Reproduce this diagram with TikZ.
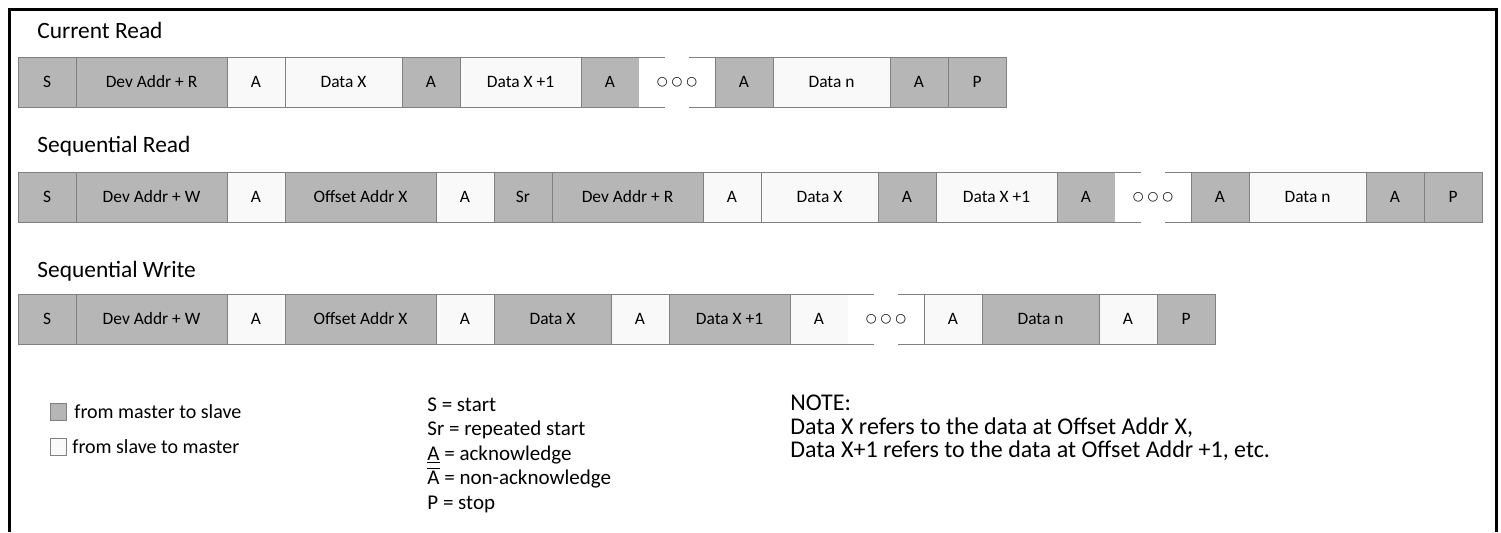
\documentclass[tikz,border=0pt]{standalone}
\usepackage{fontspec}
\setmainfont{Carlito}
\newfontfamily\kreisfont{DejaVu Sans}
\usetikzlibrary{positioning}
\definecolor{mgrau}{RGB}{182,182,182}
\definecolor{sgrau}{RGB}{249,249,249}
\definecolor{rand}{RGB}{128,128,128}
\tikzset{
  Feld/.style={draw=rand, line width=0.5pt, minimum height=25pt, inner sep=0pt, outer sep=0pt, anchor=west, font=\fontsize{8.7}{10}\selectfont}, % Grundform
  MS/.style={Feld, fill=mgrau, minimum width=#1}, % master to slave
  SM/.style={Feld, fill=sgrau, minimum width=#1}, % slave to master
  Luecke/.style={Feld, draw=none, fill=white, minimum width=38pt, font=\kreisfont\fontsize{6.2}{8}\selectfont}, % fuer o o o
  Bruch/.style={draw=rand, line width=0.5pt, dash pattern=on 13pt off 12pt},
  Titel/.style={anchor=west, inner sep=0pt, font=\fontsize{11.7}{14}\selectfont},
  Legende/.style={anchor=west, inner sep=0pt, font=\fontsize{10}{12}\selectfont}
}
\begin{document}
\begin{tikzpicture}[x=0.5pt, y=-0.5pt]
\useasboundingbox (0,0) rectangle (1501,532);

% Rahmen
\draw[line width=1.5pt] (9,532) -- (9,9) -- (1496,9) -- (1496,532);

% % Current Read
\node[Titel] (t1) at (37,30) {Current Read};
\node[MS=29pt] (r1s) at (18,82) {S};
\node[MS=75.5pt, right=0pt of r1s] (r1dev) {Dev Addr + R};
\node[SM=29pt, right=0pt of r1dev] (r1a1) {A};
\node[SM=58.5pt, right=0pt of r1a1] (r1dx) {Data X};
\node[MS=29pt, right=0pt of r1dx] (r1a2) {A};
\node[SM=60.5pt, right=0pt of r1a2] (r1dx1) {Data X +1};
\node[MS=29pt, right=0pt of r1dx1] (r1a3) {A};
\node[Luecke, right=0pt of r1a3] (r1gap) {○ ○ ○};
\node[MS=29pt, right=0pt of r1gap] (r1a4) {A};
\node[SM=58.5pt, right=0pt of r1a4] (r1dn) {Data n};
\node[MS=29pt, right=0pt of r1dn] (r1a5) {A};
\node[MS=29pt, right=0pt of r1a5] (r1p) {P};
\draw[Bruch] (r1gap.north west) -- (r1gap.north east);
\draw[Bruch] (r1gap.south west) -- (r1gap.south east);

% % Sequential Read
\node[Titel] (t2) at (37,146) {Sequential Read};
\node[MS=29pt] (r2s) at (18,197) {S};
\node[MS=75.5pt, right=0pt of r2s] (r2dev) {Dev Addr + W};
\node[SM=29pt, right=0pt of r2dev] (r2a1) {A};
\node[MS=75.5pt, right=0pt of r2a1] (r2off) {Offset Addr X};
\node[SM=29pt, right=0pt of r2off] (r2a2) {A};
\node[MS=29pt, right=0pt of r2a2] (r2sr) {Sr};
\node[MS=75.5pt, right=0pt of r2sr] (r2devr) {Dev Addr + R};
\node[SM=29pt, right=0pt of r2devr] (r2a3) {A};
\node[SM=58.5pt, right=0pt of r2a3] (r2dx) {Data X};
\node[MS=29pt, right=0pt of r2dx] (r2a4) {A};
\node[SM=60.5pt, right=0pt of r2a4] (r2dx1) {Data X +1};
\node[MS=29pt, right=0pt of r2dx1] (r2a5) {A};
\node[Luecke, right=0pt of r2a5] (r2gap) {○ ○ ○};
\node[MS=29pt, right=0pt of r2gap] (r2a6) {A};
\node[SM=58.5pt, right=0pt of r2a6] (r2dn) {Data n};
\node[MS=29pt, right=0pt of r2dn] (r2a7) {A};
\node[MS=29pt, right=0pt of r2a7] (r2p) {P};
\draw[Bruch] (r2gap.north west) -- (r2gap.north east);
\draw[Bruch] (r2gap.south west) -- (r2gap.south east);

% % Sequential Write
\node[Titel] (t3) at (37,271) {Sequential Write};
\node[MS=29pt] (r3s) at (18,319) {S};
\node[MS=75.5pt, right=0pt of r3s] (r3dev) {Dev Addr + W};
\node[SM=29pt, right=0pt of r3dev] (r3a1) {A};
\node[MS=75.5pt, right=0pt of r3a1] (r3off) {Offset Addr X};
\node[SM=29pt, right=0pt of r3off] (r3a2) {A};
\node[MS=58.5pt, right=0pt of r3a2] (r3dx) {Data X};
\node[SM=29pt, right=0pt of r3dx] (r3a3) {A};
\node[MS=60.5pt, right=0pt of r3a3] (r3dx1) {Data X +1};
\node[SM=29pt, right=0pt of r3dx1] (r3a4) {A};
\node[Luecke, right=0pt of r3a4] (r3gap) {○ ○ ○};
\node[SM=29pt, right=0pt of r3gap] (r3a5) {A};
\node[MS=58.5pt, right=0pt of r3a5] (r3dn) {Data n};
\node[SM=29pt, right=0pt of r3dn] (r3a6) {A};
\node[MS=29pt, right=0pt of r3a6] (r3p) {P};
\draw[Bruch] (r3gap.north west) -- (r3gap.north east);
\draw[Bruch] (r3gap.south west) -- (r3gap.south east);

% Legende
\node[MS=8pt, minimum height=8.5pt, anchor=center] (kms) at (58,412) {};
\node[SM=8pt, minimum height=8.5pt, anchor=center] (ksm) at (58,447) {};
\node[Legende] (lms) at (74,412) {from master to slave};
\node[Legende] (lsm) at (72,447) {from slave to master};

\node[anchor=north west, inner sep=0pt, align=left, font=\fontsize{10.5}{12.25}\selectfont] (abk) at (427,397)
  {S = start\\ Sr = repeated start\\ \underline{A} = acknowledge\\ $\overline{\mbox{A}}$ = non-acknowledge\\ P = stop};

\node[anchor=north west, inner sep=0pt, align=left, font=\fontsize{12}{11.75}\selectfont] (note) at (790,395)
  {NOTE:\\ Data X refers to the data at Offset Addr X,\\ Data X+1 refers to the data at Offset Addr +1, etc.};

\end{tikzpicture}
\end{document}
